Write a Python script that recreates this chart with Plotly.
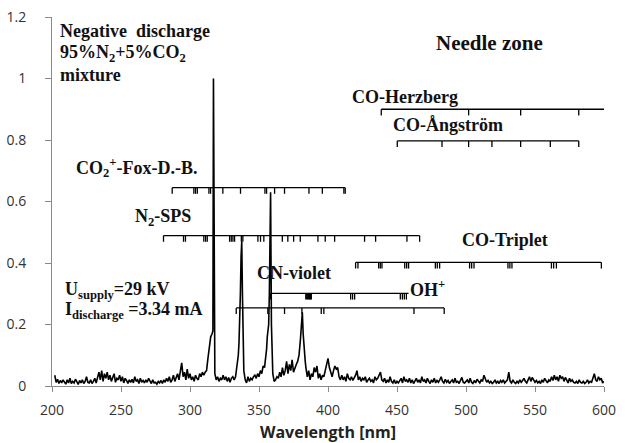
import plotly.graph_objects as go

# ---- emission spectrum (relative intensity) ----
# intensity at every integer wavelength from 202 to 600 nm
grid_start = 202
grid_int = [
    0.035, 0.012, 0.022, 0.008, 0.018, 0.010, 0.020, 0.012,                 # 202-209
    0.006, 0.020, 0.010, 0.025, 0.008, 0.015, 0.010, 0.022, 0.012, 0.005,   # 210-219
    0.018, 0.010, 0.020, 0.008, 0.015, 0.030, 0.012, 0.010, 0.020, 0.008,   # 220-229
    0.015, 0.025, 0.010, 0.030, 0.045, 0.020, 0.050, 0.015, 0.040, 0.025,   # 230-239
    0.045, 0.020, 0.035, 0.015, 0.030, 0.040, 0.012, 0.025, 0.020, 0.035,   # 240-249
    0.015, 0.030, 0.010, 0.025, 0.018, 0.008, 0.020, 0.012, 0.022, 0.010,   # 250-259
    0.030, 0.015, 0.020, 0.008, 0.025, 0.012, 0.018, 0.010, 0.020, 0.012,   # 260-269
    0.025, 0.015, 0.008, 0.020, 0.010, 0.012, 0.006, 0.015, 0.010, 0.018,   # 270-279
    0.008, 0.020, 0.012, 0.025, 0.015, 0.030, 0.012, 0.020, 0.035, 0.015,   # 280-289
    0.030, 0.040, 0.020, 0.050, 0.075, 0.030, 0.045, 0.020, 0.055, 0.025,   # 290-299
    0.040, 0.020, 0.030, 0.015, 0.035, 0.025, 0.020, 0.040, 0.030, 0.045,   # 300-309
    0.035, 0.045, 0.050, 0.090, 0.130, 0.160, 0.170, 1.000, 0.040, 0.020,   # 310-319
    0.030, 0.015, 0.025, 0.020, 0.035, 0.020, 0.030, 0.015, 0.028, 0.012,   # 320-329
    0.025, 0.030, 0.020, 0.030, 0.060, 0.100, 0.200, 0.420, 0.300, 0.050,   # 330-339
    0.020, 0.010, 0.030, 0.015, 0.025, 0.020, 0.030, 0.035, 0.025, 0.040,   # 340-349
    0.030, 0.050, 0.040, 0.065, 0.060, 0.090, 0.160, 0.200, 0.500, 0.200,   # 350-359
    0.040, 0.015, 0.020, 0.030, 0.025, 0.045, 0.030, 0.060, 0.035, 0.050,   # 360-369
    0.080, 0.040, 0.070, 0.050, 0.085, 0.045, 0.060, 0.070, 0.080, 0.100,   # 370-379
    0.150, 0.220, 0.170, 0.100, 0.060, 0.030, 0.050, 0.020, 0.040, 0.030,   # 380-389
    0.060, 0.045, 0.065, 0.025, 0.040, 0.020, 0.035, 0.030, 0.050, 0.070,   # 390-399
    0.090, 0.060, 0.040, 0.030, 0.050, 0.065, 0.055, 0.060, 0.030, 0.020,   # 400-409
    0.035, 0.020, 0.030, 0.015, 0.040, 0.025, 0.020, 0.030, 0.018, 0.025,   # 410-419
    0.035, 0.050, 0.020, 0.030, 0.015, 0.025, 0.020, 0.030, 0.012, 0.020,   # 420-429
    0.025, 0.015, 0.020, 0.010, 0.030, 0.020, 0.025, 0.035, 0.045, 0.020,   # 430-439
    0.015, 0.025, 0.010, 0.020, 0.012, 0.030, 0.015, 0.010, 0.020, 0.008,   # 440-449
    0.015, 0.010, 0.020, 0.025, 0.010, 0.030, 0.015, 0.020, 0.012, 0.025,   # 450-459
    0.010, 0.020, 0.008, 0.015, 0.025, 0.012, 0.020, 0.010, 0.030, 0.015,   # 460-469
    0.020, 0.010, 0.025, 0.015, 0.008, 0.020, 0.012, 0.025, 0.010, 0.018,   # 470-479
    0.012, 0.020, 0.030, 0.015, 0.010, 0.022, 0.012, 0.018, 0.008, 0.015,   # 480-489
    0.020, 0.010, 0.025, 0.012, 0.015, 0.008, 0.020, 0.028, 0.012, 0.010,   # 490-499
    0.015, 0.020, 0.010, 0.025, 0.012, 0.008, 0.018, 0.010, 0.022, 0.015,   # 500-509
    0.010, 0.020, 0.015, 0.035, 0.020, 0.012, 0.018, 0.010, 0.015, 0.008,   # 510-519
    0.012, 0.020, 0.010, 0.015, 0.008, 0.018, 0.012, 0.020, 0.010, 0.015,   # 520-529
    0.020, 0.045, 0.015, 0.010, 0.020, 0.012, 0.008, 0.015, 0.010, 0.020,   # 530-539
    0.012, 0.018, 0.025, 0.015, 0.010, 0.020, 0.030, 0.015, 0.028, 0.020,   # 540-549
    0.012, 0.018, 0.010, 0.015, 0.008, 0.020, 0.012, 0.025, 0.015, 0.010,   # 550-559
    0.020, 0.015, 0.030, 0.018, 0.035, 0.020, 0.030, 0.015, 0.035, 0.025,   # 560-569
    0.030, 0.015, 0.028, 0.020, 0.010, 0.025, 0.015, 0.020, 0.012, 0.010,   # 570-579
    0.015, 0.008, 0.020, 0.012, 0.010, 0.015, 0.008, 0.012, 0.020, 0.010,   # 580-589
    0.015, 0.012, 0.030, 0.040, 0.020, 0.015, 0.030, 0.020, 0.025, 0.010,   # 590-599
    0.015,                                                                  # 600
]

# extra samples resolving the N2 second-positive band heads
fine_wl = [316.6, 317.5, 335.5, 336.5, 337.5, 338.5,
           355.5, 356.5, 357.5, 358.4, 359.5, 380.5, 381.4, 382.5, 383.5]
fine_int = [0.18, 0.12, 0.14, 0.30, 0.47, 0.12,
            0.12, 0.19, 0.30, 0.63, 0.08, 0.20, 0.24, 0.13, 0.08]

# ---- band systems: label row level and band-head positions (nm) ----
herzberg_level = 0.900
herzberg_heads = [438.6, 501.9, 539.6, 581.7]
herzberg_end = 600.0

angstrom_level = 0.797
angstrom_heads = [450.2, 482.6, 501.9, 518.8, 539.6, 561.1, 581.7]

co2p_level = 0.645
co2p_heads = [287.1, 302.8, 304.0, 305.3, 313.7, 314.9, 323.8, 336.6,
              354.3, 355.5, 361.3, 368.5, 386.2, 395.9, 411.5, 412.5]

sps_level = 0.489
sps_heads = [280.8, 295.3, 296.7, 310.0, 311.3, 312.5, 328.7, 329.9, 331.1,
             332.3, 337.2, 338.3, 349.2, 351.1, 353.5, 366.9, 370.9, 375.1,
             379.9, 392.7, 398.0, 404.8, 426.5, 434.5, 457.2, 466.4]

triplet_level = 0.402
triplet_heads = [420.0, 421.7, 436.7, 437.9, 439.1, 455.6, 457.0, 458.4,
                 477.8, 479.2, 480.9, 502.6, 504.1, 505.8, 530.4, 531.8,
                 533.3, 561.9, 563.5, 565.5, 598.1]

cn_level = 0.301
cn_heads = [358.2, 383.9, 384.6, 385.3, 386.0, 386.7, 387.4, 387.9,
            416.4, 417.8, 419.3, 452.4, 453.9, 455.3, 456.8]
cn_end = 458.4

ohp_level = 0.254
ohp_heads = [333.5, 356.4, 368.5, 381.1, 395.1, 397.0, 462.3, 484.2]

tick_drop = 0.02   # length of a band-head tick in intensity units

# merge the integer grid with the fine samples
pts = [(grid_start + i, v) for i, v in enumerate(grid_int)]
pts += list(zip(fine_wl, fine_int))
pts.sort()
spec_wl = [p[0] for p in pts]
spec_int = [p[1] for p in pts]

fig = go.Figure()

fig.add_trace(go.Scatter(
    x=spec_wl, y=spec_int, mode="lines",
    line=dict(color="black", width=1.6), hoverinfo="skip", showlegend=False))


def band_row(level, heads, end=None):
    """Horizontal bar at `level` with a downward tick at each band head."""
    x, y = [], []
    stop = heads[-1] if end is None else end
    x += [heads[0], stop, None]
    y += [level, level, None]
    for h in heads:
        x += [h, h, None]
        y += [level, level - tick_drop, None]
    fig.add_trace(go.Scatter(
        x=x, y=y, mode="lines", line=dict(color="black", width=1.3),
        hoverinfo="skip", showlegend=False))


band_row(herzberg_level, herzberg_heads, herzberg_end)
band_row(angstrom_level, angstrom_heads)
band_row(co2p_level, co2p_heads)
band_row(sps_level, sps_heads)
band_row(triplet_level, triplet_heads)
band_row(cn_level, cn_heads, cn_end)
band_row(ohp_level, ohp_heads)

serif = "Liberation Serif"
labels = [
    # text, x (nm), y, size
    ("Negative  discharge", 204.0, 1.155, 18),
    ("95%N<sub>2</sub>+5%CO<sub>2</sub>", 204.0, 1.082, 18),
    ("mixture", 204.0, 1.010, 18),
    ("Needle zone", 477.0, 1.117, 21),
    ("CO-Herzberg", 415.7, 0.941, 18),
    ("CO-Ångström", 445.4, 0.849, 18),
    ("CO<sub>2</sub><sup>+</sup>-Fox-D.-B.", 216.3, 0.712, 18),
    ("N<sub>2</sub>-SPS", 258.4, 0.548, 18),
    ("CO-Triplet", 495.4, 0.475, 18),
    ("CN-violet", 346.8, 0.367, 18),
    ("OH<sup>+</sup>", 457.7, 0.318, 18),
    ("U<sub>supply</sub>=29 kV", 208.3, 0.312, 18),
    ("I<sub>discharge</sub> =3.34 mA", 208.3, 0.247, 18),
]
for txt, lx, ly, size in labels:
    fig.add_annotation(
        x=lx, y=ly, xref="x", yref="y", text=f"<b>{txt}</b>",
        showarrow=False, xanchor="left", yanchor="middle",
        font=dict(family=serif, size=size, color="#111111"))

axis_font = dict(family="Open Sans", size=14, color="#333333")
fig.update_xaxes(
    range=[200, 600], tickvals=[200, 250, 300, 350, 400, 450, 500, 550, 600],
    showgrid=False, zeroline=False, showline=True, linecolor="#8a8a8a",
    linewidth=1, ticks="outside", ticklen=5, tickcolor="#8a8a8a",
    tickfont=axis_font, ticklabelstandoff=6, automargin=False,
    title=dict(text="<b>Wavelength [nm]</b>", standoff=10,
               font=dict(family="Open Sans", size=16, color="#222222")))
fig.update_yaxes(
    range=[0, 1.2], tickvals=[0, 0.2, 0.4, 0.6, 0.8, 1.0, 1.2],
    showgrid=False, zeroline=False, showline=True, linecolor="#8a8a8a",
    linewidth=1, ticks="outside", ticklen=6, tickcolor="#8a8a8a",
    tickfont=axis_font, ticklabelstandoff=16, automargin=False)

fig.update_layout(
    width=625, height=443,
    margin=dict(l=52, r=21, t=17, b=57),
    paper_bgcolor="white", plot_bgcolor="white",
    showlegend=False)

fig.write_html("out.html")
